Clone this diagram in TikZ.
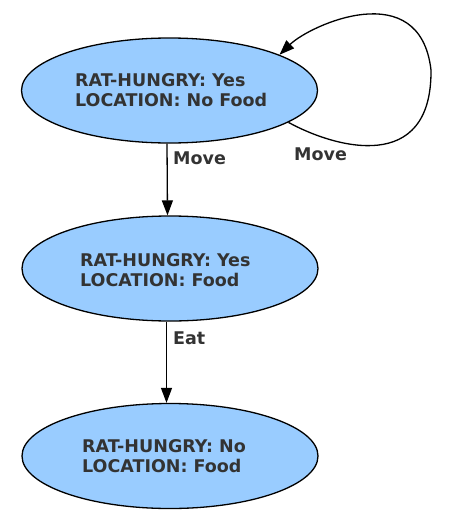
\documentclass[tikz,border=0pt]{standalone}
\usepackage{fontspec}
\setmainfont{DejaVu Sans}
\usetikzlibrary{shapes.geometric,arrows.meta}
\definecolor{statefill}{HTML}{99CCFF}
\definecolor{txt}{HTML}{333333}
\begin{document}
\begin{tikzpicture}[x=1pt,y=-1pt,
  state/.style={ellipse,draw=black,line width=1.3pt,fill=statefill,
    minimum width=296pt,minimum height=105pt,inner sep=0pt},
  stxt/.style={anchor=west,inner sep=0pt,align=left,text=txt,
    font=\fontsize{17.5}{20}\selectfont\bfseries},
  lbl/.style={anchor=base west,inner sep=0pt,text=txt,font=\fontsize{17.5}{20}\selectfont\bfseries},
  edge/.style={draw=black,line width=1.3pt,-{Triangle[length=15pt,width=11pt]}}]
\useasboundingbox (0,0) rectangle (458,517);
\node[state] (n1) at (169.5,90.5) {};
\node[state] (n2) at (170,268.5) {};
\node[state] (n3) at (170,456) {};
\node[stxt] (t1) at (75,90.5) {RAT-HUNGRY: Yes\\LOCATION: No Food};
\node[stxt] (t2) at (80,270) {RAT-HUNGRY: Yes\\LOCATION: Food};
\node[stxt] (t3) at (82,456.5) {RAT-HUNGRY: No\\LOCATION: Food};
\coordinate (loopR) at (431,70);
\draw[edge] ([xshift=-2.5pt]n1.south) -- ([xshift=-2.5pt]n2.north);
\draw[edge] ([xshift=-3.5pt]n2.south) -- ([xshift=-3.5pt]n3.north);
\draw[edge] (n1.-15.5) .. controls (335,148) and (432,175) .. (loopR)
  .. controls (420,-25) and (310,25) .. (n1.18);
\node[lbl] (m1) at (173,164) {Move};
\node[lbl] (m2) at (294,160) {Move};
\node[lbl] (e1) at (173,344) {Eat};
\end{tikzpicture}
\end{document}
